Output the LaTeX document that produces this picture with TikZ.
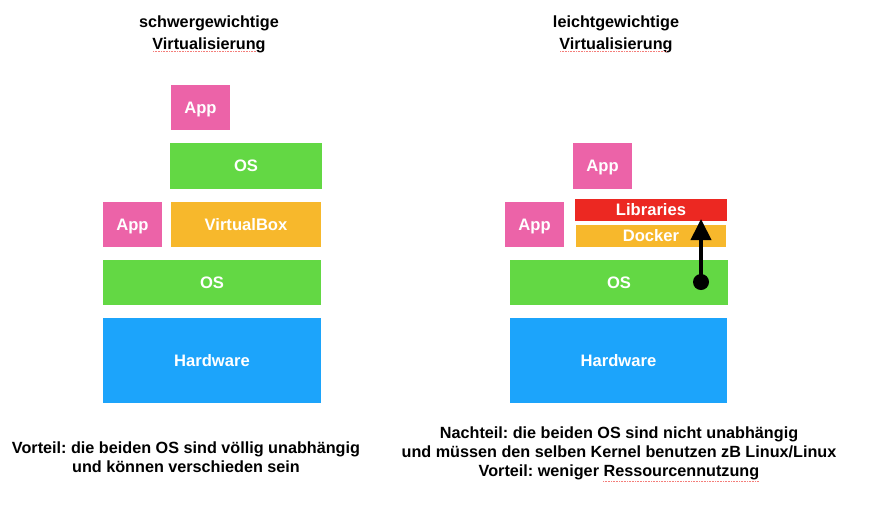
\documentclass[tikz,border=0pt]{standalone}
\usepackage{fontspec}
\setmainfont{Liberation Sans}
\usetikzlibrary{arrows.meta}
\frenchspacing
\definecolor{cpink}{RGB}{236,99,168}
\definecolor{cgreen}{RGB}{99,216,68}
\definecolor{corange}{RGB}{247,184,44}
\definecolor{cblue}{RGB}{28,164,251}
\definecolor{cred}{RGB}{236,40,34}
\tikzset{
  blk/.style={fill=#1, draw=none, text=white, inner sep=0pt, text height=11.9pt, text depth=0pt, font=\fontsize{16.6}{20}\selectfont\bfseries},
  wh/.style args={#1x#2}{minimum width=#1pt, minimum height=#2pt},
  txt/.style={anchor=base, inner sep=0pt, font=\fontsize{16.2}{20}\selectfont\bfseries},
  spell/.style={cred!60, line width=0.6pt, dash pattern=on 0.8pt off 0.8pt},
}
\begin{document}
\begin{tikzpicture}[x=1pt, y=-1pt]
\useasboundingbox (0,0) rectangle (872,504);
\fill[white] (0,0) rectangle (872,504);
% titles
\node[txt] (t1a) at (209,27) {schwergewichtige};
\node[txt] (t1b) at (209,49) {Virtualisierung};
\node[txt] (t2a) at (616,27) {leichtgewichtige};
\node[txt] (t2b) at (616,49) {Virtualisierung};
\draw[spell] (153,51.5) -- (257,51.5);
\draw[spell] (560,51.5) -- (667,51.5);
% left stack
\node[blk=cpink, wh=59x45] (appTopL) at (200.5,107.5) {App};
\node[blk=cgreen, wh=152x46] (osTopL) at (246,166) {OS};
\node[blk=cpink, wh=59x45] (appL) at (132.5,224.5) {App};
\node[blk=corange, wh=150x45] (vbox) at (246,224.5) {VirtualBox};
\node[blk=cgreen, wh=218x45] (osL) at (212,282.5) {OS};
\node[blk=cblue, wh=218x85] (hwL) at (212,360.5) {Hardware};
% right stack
\node[blk=cpink, wh=59x46] (appTopR) at (602.5,166) {App};
\node[blk=cred, wh=152x22] (lib) at (651,210) {Libraries};
\node[blk=corange, wh=150x22] (docker) at (651,236) {Docker};
\node[blk=cpink, wh=59x45] (appR) at (534.5,224.5) {App};
\node[blk=cgreen, wh=218x45] (osR) at (619,282.5) {OS};
\node[blk=cblue, wh=217x85] (hwR) at (618.5,360.5) {Hardware};
% arrow
\node[circle, fill=black, minimum size=16pt, inner sep=0pt] (dot) at (701,282) {};
\coordinate (tip) at (701,219);
\draw[line width=4pt, -{Triangle[width=20pt,length=21pt]}] (dot.center) -- (tip);
% bottom texts
\node[txt] (b1a) at (186,453) {Vorteil: die beiden OS sind völlig unabhängig};
\node[txt] (b1b) at (186,472) {und können verschieden sein};
\node[txt] (b2a) at (619,438) {Nachteil: die beiden OS sind nicht unabhängig};
\node[txt] (b2b) at (619,457) {und müssen den selben Kernel benutzen zB Linux/Linux};
\node[txt] (b2c) at (619,476) {Vorteil: weniger Ressourcennutzung};
\draw[spell] (603,481.5) -- (759,481.5);
\end{tikzpicture}
\end{document}
